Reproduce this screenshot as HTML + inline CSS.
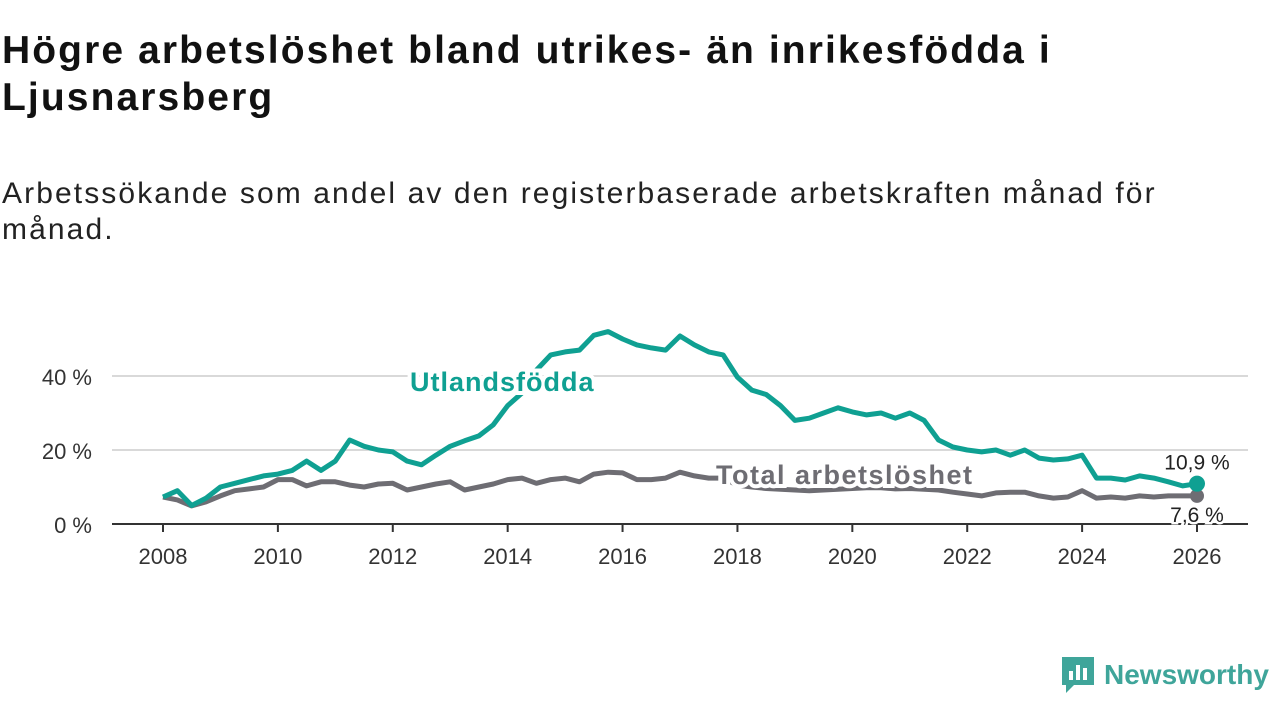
<!DOCTYPE html>
<html><head><meta charset="utf-8"><style>
body{margin:0;width:1280px;height:720px;background:#fff;font-family:"Liberation Sans","DejaVu Sans",sans-serif;overflow:hidden;position:relative}
h1{position:absolute;left:2px;top:27px;margin:0;font-size:39px;line-height:47px;font-weight:bold;color:#111;width:1100px;letter-spacing:2.1px}
.sub{position:absolute;left:2px;top:176px;font-size:30px;line-height:36px;color:#222;width:1195px;letter-spacing:2.1px}
svg{position:absolute;left:0;top:0}
</style></head><body>
<h1>Högre arbetslöshet bland utrikes- än inrikesfödda i Ljusnarsberg</h1>
<div class="sub">Arbetssökande som andel av den registerbaserade arbetskraften månad för månad.</div>
<svg id="chart" width="1280" height="720"></svg>
<script>
const years=[2008,2010,2012,2014,2016,2018,2020,2022,2024,2026];
const yTicks=[0,20,40];
const yTickLabels=["0 %","20 %","40 %"];
const startYear=2008, stepYear=0.25;
const utlandsfodda=[7.3,9,5,7,10,11,12,13,13.5,14.5,17,14.5,17,22.7,21,20,19.5,17,16,18.6,21,22.5,23.8,26.8,32,35.4,41.6,45.7,46.5,47,51,52,50,48.4,47.6,47,50.8,48.4,46.5,45.7,39.7,36.2,35,32,28,28.6,30,31.4,30.3,29.5,30,28.6,30,28,22.7,20.8,20,19.5,20,18.6,20,17.8,17.3,17.6,18.6,12.4,12.4,11.9,13,12.4,11.4,10.3,10.9];
const total=[7.3,6.5,4.9,6,7.6,9,9.5,10,12,12,10.3,11.4,11.4,10.5,10,10.8,11,9.2,10,10.8,11.4,9.2,10,10.8,12,12.4,11,12,12.4,11.4,13.5,14,13.8,12,12,12.4,14,13,12.4,12.4,10.5,10,9.6,9.4,9.2,9,9.2,9.4,9.6,9.8,9.8,9.5,9.6,9.4,9.2,8.6,8.1,7.6,8.4,8.6,8.6,7.6,7,7.3,9,7,7.3,7,7.6,7.3,7.6,7.6,7.6];
const X=y=>163+(y-2008)*(1197-163)/18;
const Y=v=>524-v*3.7;
const svg=document.getElementById('chart');
const NS='http://www.w3.org/2000/svg';
function mk(t,a){const e=document.createElementNS(NS,t);for(const k in a)e.setAttribute(k,a[k]);svg.appendChild(e);return e;}
yTicks.forEach((v,i)=>{
 if(v>0){const g=mk('line',{x1:112,x2:1248,y1:Y(v),y2:Y(v),stroke:'#d9d9d9','stroke-width':2});
 
 }
 const t=mk('text',{x:92,y:Y(v)+9,'text-anchor':'end','font-size':22,fill:'#333'});t.textContent=yTickLabels[i];
 
 
});
years.forEach(y=>{
 const l=mk('line',{x1:X(y),x2:X(y),y1:524,y2:532,stroke:'#333','stroke-width':2});
 
 
 const t=mk('text',{x:X(y),y:564,'text-anchor':'middle','font-size':22,fill:'#333'});t.textContent=y;
 
 
});
function path(arr){return arr.map((v,i)=>(i?'L':'M')+X(startYear+i*stepYear).toFixed(1)+','+Y(v).toFixed(1)).join('');}
const pt=mk('path',{d:path(total),fill:'none',stroke:'#6e6d73','stroke-width':5,'stroke-linejoin':'round'});


const pu=mk('path',{d:path(utlandsfodda),fill:'none',stroke:'#0fa092','stroke-width':5,'stroke-linejoin':'round'});


const ax=mk('line',{x1:112,x2:1248,y1:524,y2:524,stroke:'#333','stroke-width':2});


const lu=mk('text',{x:410,y:391,'font-size':27,'font-weight':'bold','letter-spacing':1,fill:'#0fa092',stroke:'#fff','stroke-width':8,'paint-order':'stroke'});lu.textContent='Utlandsfödda';


const lt=mk('text',{x:716,y:484,'font-size':27,'font-weight':'bold','letter-spacing':1.5,fill:'#6e6d73',stroke:'#fff','stroke-width':8,'paint-order':'stroke'});lt.textContent='Total arbetslöshet';


const last=utlandsfodda.length-1, ex=X(startYear+last*stepYear);
const d1=mk('circle',{cx:ex,cy:Y(total[last]),r:7,fill:'#6e6d73'});


const d2=mk('circle',{cx:ex,cy:Y(utlandsfodda[last]),r:8,fill:'#0fa092'});


const v1=mk('text',{x:ex,y:Y(utlandsfodda[last])-14,'text-anchor':'middle','font-size':21,fill:'#222',stroke:'#fff','stroke-width':5,'paint-order':'stroke'});v1.textContent=String(utlandsfodda[last]).replace('.',',')+' %';


const v2=mk('text',{x:ex,y:Y(total[last])+26,'text-anchor':'middle','font-size':21,fill:'#222',stroke:'#fff','stroke-width':5,'paint-order':'stroke'});v2.textContent=String(total[last]).replace('.',',')+' %';


</script>
<div style="position:absolute;left:1060px;top:655px;display:flex;align-items:center">
<svg width="36" height="40" style="position:static"><path d="M2 2h32v28H14l-8 8v-8H2z" fill="#3fa59a"/><rect x="9" y="16" width="4" height="9" fill="#fff"/><rect x="16" y="10" width="4" height="15" fill="#fff"/><rect x="23" y="13" width="4" height="12" fill="#fff"/></svg>
<span style="font-size:28px;font-weight:bold;color:#3fa59a;margin-left:8px">Newsworthy</span></div>
</body></html>
